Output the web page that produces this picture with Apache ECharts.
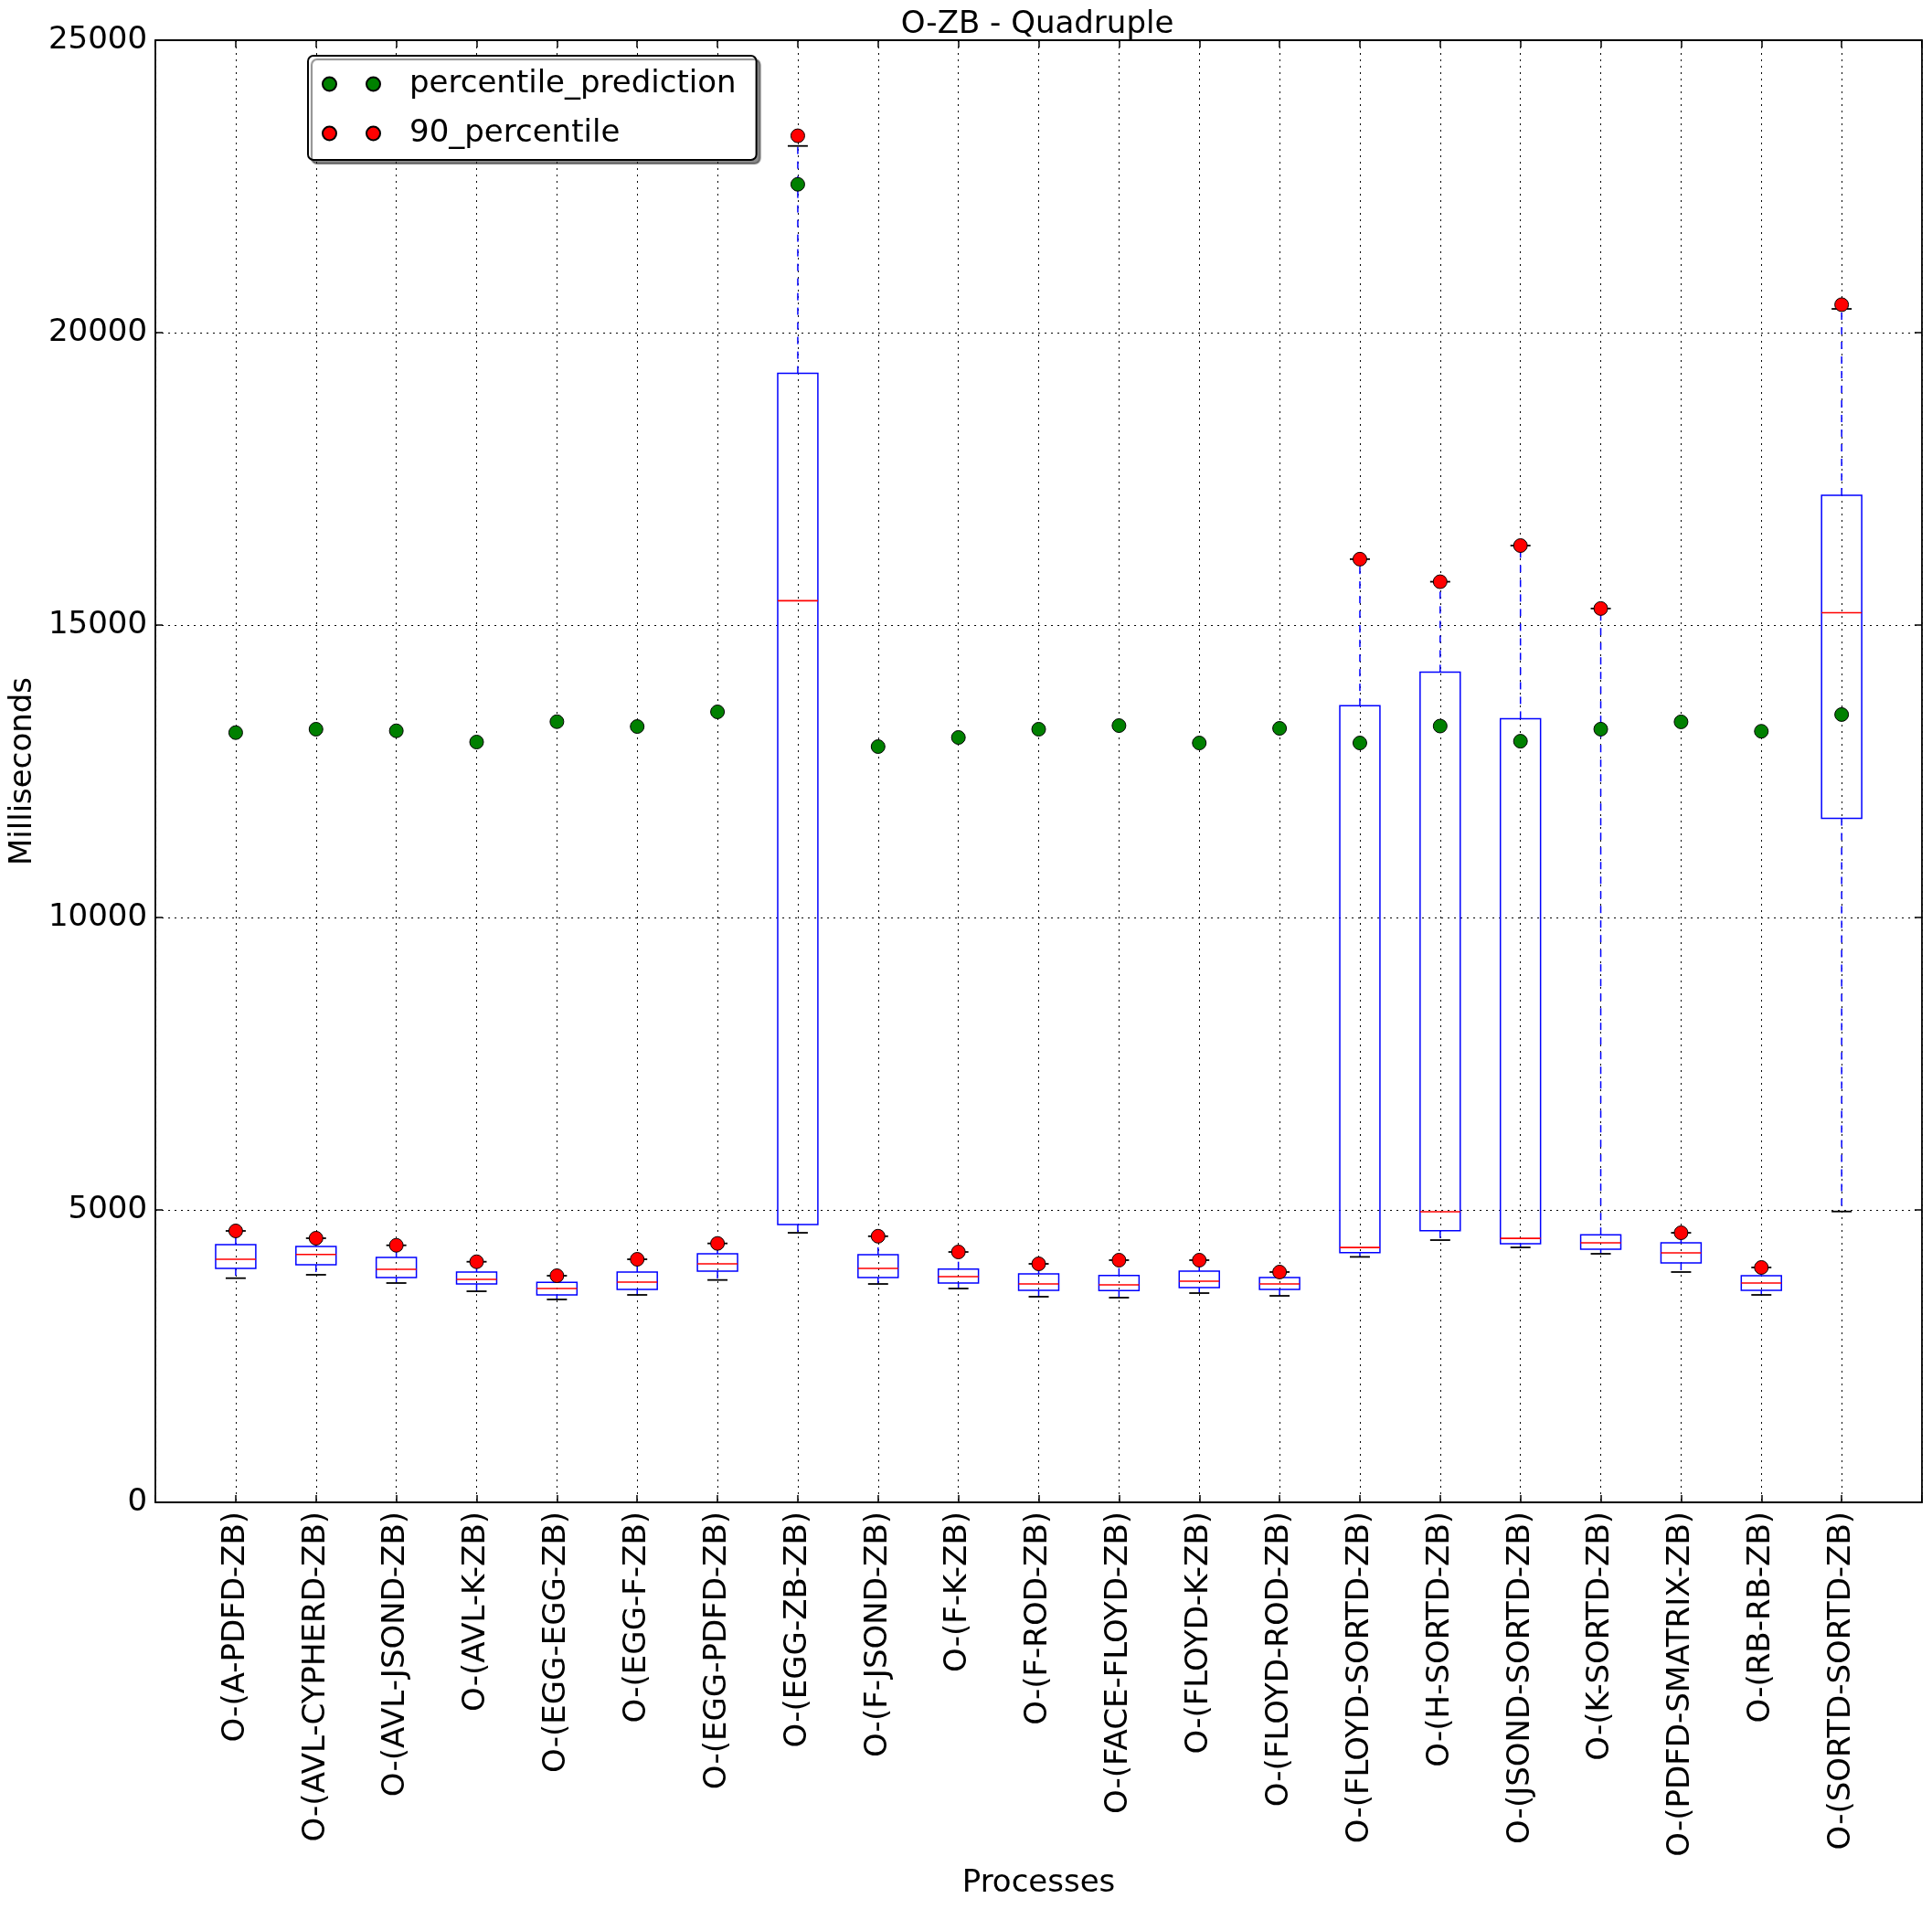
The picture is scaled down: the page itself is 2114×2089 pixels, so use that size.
<!DOCTYPE html>
<html><head><meta charset="utf-8">
<script src="https://cdn.jsdelivr.net/npm/echarts@6/dist/echarts.min.js"></script>
<style>html,body{margin:0;padding:0;background:#fff}#c{width:2114px;height:2089px}</style>
</head><body><div id="c"></div>
<script>
const categories = ['O-(A-PDFD-ZB)','O-(AVL-CYPHERD-ZB)','O-(AVL-JSOND-ZB)','O-(AVL-K-ZB)','O-(EGG-EGG-ZB)','O-(EGG-F-ZB)','O-(EGG-PDFD-ZB)','O-(EGG-ZB-ZB)','O-(F-JSOND-ZB)','O-(F-K-ZB)','O-(F-ROD-ZB)','O-(FACE-FLOYD-ZB)','O-(FLOYD-K-ZB)','O-(FLOYD-ROD-ZB)','O-(FLOYD-SORTD-ZB)','O-(H-SORTD-ZB)','O-(JSOND-SORTD-ZB)','O-(K-SORTD-ZB)','O-(PDFD-SMATRIX-ZB)','O-(RB-RB-ZB)','O-(SORTD-SORTD-ZB)'];
const whiskerLow  = [3833,3891,3750,3609,3469,3547,3802,4609,3734,3656,3516,3500,3578,3531,4197,4484,4359,4250,3938,3547,4973];
const q1          = [4000,4063,3844,3734,3547,3641,3953,4750,3844,3750,3625,3620,3672,3641,4269,4643,4421,4330,4094,3625,11695];
const median      = [4156,4239,3984,3813,3656,3766,4078,15416,4000,3859,3734,3719,3781,3734,4358,4968,4513,4438,4266,3750,15210];
const q3          = [4406,4375,4188,3938,3760,3938,4250,19303,4234,3989,3906,3880,3953,3844,13623,14197,13400,4575,4438,3875,17219];
const whiskerHigh = [4641,4516,4395,4114,3875,4156,4427,23192,4550,4281,4078,4141,4141,3938,16127,15741,16359,15283,4609,4016,20406];
const percentile90 = [4641,4516,4395,4114,3875,4156,4427,23366,4550,4281,4078,4141,4141,3938,16127,15741,16359,15283,4609,4016,20478];
const percentilePrediction = [13161,13219,13192,13000,13348,13265,13516,22536,12922,13078,13219,13281,12984,13234,12984,13273,13014,13220,13345,13184,13470];
const yMin = 0, yMax = 25000, yStep = 5000;
const xMin = 0, xMax = categories.length + 1;

const FONT = 'DejaVu Sans';
const chart = echarts.init(document.getElementById('c'), null, {renderer: 'canvas'});

const boxData = categories.map((c, i) => [i + 1, whiskerLow[i], q1[i], median[i], q3[i], whiskerHigh[i]]);
const predData = categories.map((c, i) => [i + 1, percentilePrediction[i]]);
const p90Data = categories.map((c, i) => [i + 1, percentile90[i]]);

function renderBox(params, api) {
  const x = api.value(0);
  const lo = api.coord([x, api.value(1)]);
  const b1 = api.coord([x, api.value(2)]);
  const md = api.coord([x, api.value(3)]);
  const b3 = api.coord([x, api.value(4)]);
  const hi = api.coord([x, api.value(5)]);
  const bw = api.size([0.5, 0])[0];
  const cw = api.size([0.25, 0])[0];
  const cx = lo[0];
  const dash = {stroke: '#0000ff', lineWidth: 1.5, lineDash: [8, 8], fill: null};
  const cap = {stroke: '#000', lineWidth: 1.8, fill: null};
  return {type: 'group', children: [
    {type: 'line', shape: {x1: cx, y1: b1[1], x2: cx, y2: lo[1]}, style: dash},
    {type: 'line', shape: {x1: cx, y1: b3[1], x2: cx, y2: hi[1]}, style: dash},
    {type: 'line', shape: {x1: cx - cw / 2, y1: lo[1], x2: cx + cw / 2, y2: lo[1]}, style: cap},
    {type: 'line', shape: {x1: cx - cw / 2, y1: hi[1], x2: cx + cw / 2, y2: hi[1]}, style: cap},
    {type: 'rect', shape: {x: cx - bw / 2, y: b3[1], width: bw, height: b1[1] - b3[1]}, style: {fill: null, stroke: '#0000ff', lineWidth: 1.5}},
    {type: 'line', shape: {x1: cx - bw / 2, y1: md[1], x2: cx + bw / 2, y2: md[1]}, style: {stroke: '#ff0000', lineWidth: 1.6, fill: null}}
  ]};
}

const dotted = {color: '#000', type: [2, 5], width: 1};
const axisLineStyle = {color: '#000', width: 1.8};
const tickStyle = {color: '#000', width: 1.5};
const textBase = {fontFamily: FONT, fontSize: 34, color: '#000'};
const iconPath = 'path://M0,7.5a7.5,7.5 0 1,0 15,0a7.5,7.5 0 1,0 -15,0Z M48,7.5a7.5,7.5 0 1,0 15,0a7.5,7.5 0 1,0 -15,0Z';

chart.setOption({
  animation: false,
  backgroundColor: '#fff',
  title: {
    text: 'O-ZB - Quadruple', left: 1135, top: 10, textAlign: 'center', padding: 0,
    textStyle: Object.assign({fontWeight: 'normal'}, textBase)
  },
  legend: {
    data: ['percentile_prediction', '90_percentile'],
    orient: 'vertical', left: 337, top: 61,
    icon: iconPath, itemWidth: 63, itemHeight: 15, itemGap: 14,
    padding: [11, 22, 9, 15],
    borderColor: '#000', borderWidth: 2, borderRadius: 6, backgroundColor: '#fff',
    shadowColor: 'rgba(0,0,0,0.45)', shadowOffsetX: 4, shadowOffsetY: 4, shadowBlur: 1,
    textStyle: Object.assign({lineHeight: 40, padding: [0, 0, 0, 27]}, textBase)
  },
  grid: {left: 167, top: 44, width: 1936, height: 1600, containLabel: false},
  xAxis: [
    {type: 'value', min: xMin, max: xMax, interval: 1, position: 'bottom',
     axisLine: {show: true, onZero: false, lineStyle: axisLineStyle},
     axisTick: {show: true, inside: true, length: 8, lineStyle: tickStyle},
     axisLabel: Object.assign({rotate: 90, margin: 10, formatter: v => categories[v - 1] || ''}, textBase),
     splitLine: {show: true, lineStyle: dotted},
     name: 'Processes', nameLocation: 'middle', nameGap: 400,
     nameTextStyle: textBase},
    {type: 'value', min: xMin, max: xMax, interval: 1, position: 'top',
     axisLine: {show: true, onZero: false, lineStyle: axisLineStyle},
     axisTick: {show: true, inside: true, length: 8, lineStyle: tickStyle},
     axisLabel: {show: false}, splitLine: {show: false}}
  ],
  yAxis: [
    {type: 'value', min: yMin, max: yMax, interval: yStep, position: 'left',
     axisLine: {show: true, onZero: false, lineStyle: axisLineStyle},
     axisTick: {show: true, inside: true, length: 8, lineStyle: tickStyle},
     axisLabel: Object.assign({margin: 9, formatter: v => String(v)}, textBase),
     splitLine: {show: true, lineStyle: dotted},
     name: 'Milliseconds', nameLocation: 'middle', nameGap: 119, nameRotate: 90,
     nameTextStyle: textBase},
    {type: 'value', min: yMin, max: yMax, interval: yStep, position: 'right',
     axisLine: {show: true, onZero: false, lineStyle: axisLineStyle},
     axisTick: {show: true, inside: true, length: 8, lineStyle: tickStyle},
     axisLabel: {show: false}, splitLine: {show: false}}
  ],
  series: [
    {type: 'custom', name: 'box', xAxisIndex: 0, yAxisIndex: 0, renderItem: renderBox,
     data: boxData, encode: {x: 0, y: [1, 2, 3, 4, 5]}, z: 2, clip: false},
    {type: 'scatter', name: 'percentile_prediction', xAxisIndex: 0, yAxisIndex: 0,
     data: predData, symbol: 'circle', symbolSize: 15, z: 3,
     itemStyle: {color: '#008000', borderColor: '#000', borderWidth: 1, opacity: 1}},
    {type: 'scatter', name: '90_percentile', xAxisIndex: 0, yAxisIndex: 0,
     data: p90Data, symbol: 'circle', symbolSize: 15, z: 4,
     itemStyle: {color: '#ff0000', borderColor: '#000', borderWidth: 1, opacity: 1}}
  ]
});
</script>
</body></html>
